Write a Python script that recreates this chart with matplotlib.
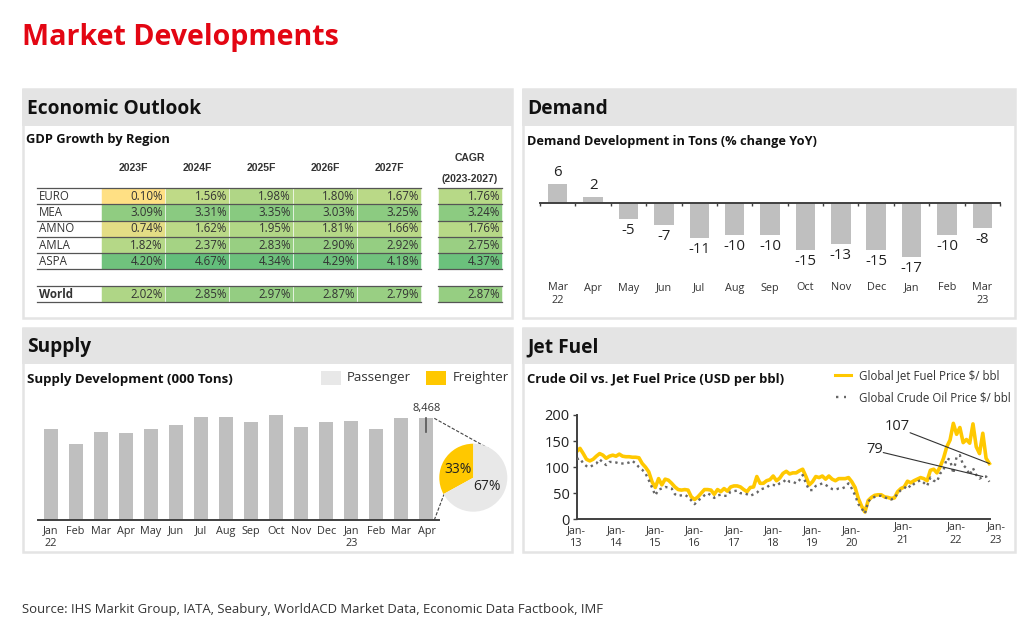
import matplotlib
matplotlib.use("Agg")
import matplotlib.pyplot as plt
from matplotlib.colors import LinearSegmentedColormap, Normalize
from matplotlib.patches import Rectangle
import numpy as np

plt.rcParams['font.family'] = ['Open Sans', 'DejaVu Sans']

W, H = 1024, 621

# GDP table
regions = ["EURO", "MEA", "AMNO", "AMLA", "ASPA"]
years = ["2023F", "2024F", "2025F", "2026F", "2027F"]
gdp = [
    [0.10, 1.56, 1.98, 1.80, 1.67],
    [3.09, 3.31, 3.35, 3.03, 3.25],
    [0.74, 1.62, 1.95, 1.81, 1.66],
    [1.82, 2.37, 2.83, 2.90, 2.92],
    [4.20, 4.67, 4.34, 4.29, 4.18],
]
cagr = [1.76, 3.24, 1.76, 2.75, 4.37]
world = [2.02, 2.85, 2.97, 2.87, 2.79]
world_cagr = 2.87

# demand
demand_months = ["Mar\n22", "Apr", "May", "Jun", "Jul", "Aug", "Sep", "Oct", "Nov", "Dec", "Jan", "Feb", "Mar\n23"]
demand = [6, 2, -5, -7, -11, -10, -10, -15, -13, -15, -17, -10, -8]

# supply
supply_months = ["Jan\n22", "Feb", "Mar", "Apr", "May", "Jun", "Jul", "Aug", "Sep", "Oct", "Nov", "Dec",
                 "Jan\n23", "Feb", "Mar", "Apr"]
supply = [7552, 6358, 7302, 7218, 7552, 7913, 8551, 8551, 8163, 8718, 7719, 8135, 8218, 7552, 8524, 8468]
supply_share = [33, 67]

# jet fuel, monthly from Jan-13
jet_fuel = [130, 136, 126, 115, 112, 115, 121, 126, 123, 117,
            121, 123, 121, 125, 121, 120, 120, 119, 119, 118,
            107, 100, 91, 72, 61, 78, 66, 77, 75, 69,
            62, 57, 56, 57, 56, 43, 38, 43, 50, 57,
            57, 56, 48, 57, 53, 59, 54, 62, 64, 64,
            62, 57, 53, 61, 62, 82, 69, 69, 74, 76,
            83, 74, 79, 88, 92, 87, 89, 89, 93, 96,
            82, 66, 72, 82, 80, 83, 77, 83, 77, 74,
            78, 78, 78, 80, 72, 61, 40, 25, 14, 36,
            42, 46, 47, 47, 43, 42, 40, 41, 53, 59,
            62, 73, 70, 74, 77, 80, 78, 74, 94, 96,
            89, 101, 117, 139, 152, 184, 163, 176, 147, 153,
            146, 183, 139, 126, 165, 117, 107]
crude_oil = [115, 117, 107, 102, 100, 104, 107, 115, 109, 104,
             110, 110, 109, 107, 107, 107, 109, 112, 107, 100,
             95, 88, 75, 61, 46, 57, 59, 62, 61, 59,
             48, 45, 46, 47, 43, 36, 29, 36, 40, 46,
             50, 46, 41, 46, 47, 45, 45, 53, 54, 55,
             50, 50, 48, 45, 48, 51, 57, 59, 61, 66,
             66, 64, 69, 71, 77, 72, 72, 69, 75, 85,
             69, 56, 56, 64, 66, 69, 66, 62, 58, 57,
             59, 59, 62, 69, 59, 46, 29, 21, 11, 34,
             40, 43, 45, 45, 42, 40, 38, 40, 50, 56,
             59, 66, 61, 68, 72, 75, 70, 64, 80, 74,
             72, 88, 94, 117, 114, 88, 120, 123, 104, 98,
             85, 98, 85, 78, 82, 82, 72]
fuel_labels = ["Jan-\n13", "Jan-\n14", "Jan-\n15", "Jan-\n16", "Jan-\n17", "Jan-\n18", "Jan-\n19", "Jan-\n20"]
late_labels = ["Jan-\n21", "Jan-\n22", "Jan-\n23"]

RED = "#E30613"
GREY = "#E4E4E4"
BAR = "#BFBFBF"
YELLOW = "#FFC800"
DARK = "#404040"
TXT = "#333333"


def px_axes(x0, y0, x1, y1):
    a = fig.add_axes([x0 / W, 1 - y1 / H, (x1 - x0) / W, (y1 - y0) / H])
    a.patch.set_alpha(0)
    return a


fig = plt.figure(figsize=(W / 100, H / 100), dpi=100, facecolor="white")
bg = fig.add_axes([0, 0, 1, 1])
bg.set_xlim(0, W)
bg.set_ylim(H, 0)
bg.axis("off")

bg.text(22, 37.5, "Market Developments", color=RED, fontsize=20.6, fontweight="bold", va="center")
bg.text(22, 609, "Source: IHS Markit Group, IATA, Seabury, WorldACD Market Data, Economic Data Factbook, IMF",
        color=TXT, fontsize=9.45, va="center")

# panels
panels = [
    (22, 89, 513, 318, 126, "Economic Outlook"),
    (522, 89, 1016, 318, 126, "Demand"),
    (22, 328, 513, 552, 364, "Supply"),
    (522, 328, 1016, 552, 364, "Jet Fuel"),
]
for x0, y0, x1, y1, yh, name in panels:
    bg.add_patch(Rectangle((x0 + 1, y0), x1 - x0 - 2, y1 - y0, fc="white", ec=GREY, lw=1.8))
    bg.add_patch(Rectangle((x0, y0), x1 - x0, yh - y0, fc=GREY, ec="none"))
    bg.text(x0 + 5, (y0 + yh) / 2 + 1, name, fontsize=13.8, fontweight="bold", color="#111111", va="center")

bg.text(26, 140, "GDP Growth by Region", fontsize=9.3, fontweight="bold", color="#111111", va="center")
bg.text(527, 141, "Demand Development in Tons (% change YoY)", fontsize=9.2, fontweight="bold", color="#111111", va="center")
bg.text(27, 379, "Supply Development (000 Tons)", fontsize=9.5, fontweight="bold", color="#111111", va="center")
bg.text(527, 379, "Crude Oil vs. Jet Fuel Price (USD per bbl)", fontsize=9.4, fontweight="bold", color="#111111", va="center")

# table
cmap = LinearSegmentedColormap.from_list("gdp", [(0, "#FFE084"), (0.35, "#B8D987"), (1, "#63BE7B")])
norm = Normalize(0.10, 4.67)
col_x = [101, 165, 229, 293, 357]
col_w = 64
cagr_x = 438
row_y = [188, 204.3, 220.5, 236.8, 253]
row_h = 16.3
world_y = 286


def cell(x, y, val):
    bg.add_patch(Rectangle((x, y), col_w, row_h, fc=cmap(norm(val)), ec="white", lw=0.4))
    bg.text(x + col_w - 2, y + row_h / 2 + 0.3, f"{val:.2f}%", fontsize=8.3, color=TXT, ha="right", va="center")


for x, yr in zip(col_x, years):
    bg.text(x + 32, 168, yr, family="Liberation Sans", fontsize=7.5, fontweight="bold", color=TXT, ha="center", va="center")
bg.text(470, 158, "CAGR", family="Liberation Sans", fontsize=7.5, fontweight="bold", color=TXT, ha="center", va="center")
bg.text(470, 179, "(2023-2027)", family="Liberation Sans", fontsize=7.5, fontweight="bold", color=TXT, ha="center", va="center")

for i, reg in enumerate(regions):
    y = row_y[i]
    bg.text(39, y + row_h / 2 + 0.3, reg, fontsize=8.3, color=TXT, va="center")
    for x, v in zip(col_x, gdp[i]):
        cell(x, y, v)
    cell(cagr_x, y, cagr[i])
bg.text(39, world_y + row_h / 2, "World", fontsize=8.3, fontweight="bold", color=TXT, va="center")
for x, v in zip(col_x, world):
    cell(x, world_y, v)
cell(cagr_x, world_y, world_cagr)

for y in row_y + [row_y[-1] + row_h, world_y, world_y + row_h]:
    bg.plot([37, 421], [y, y], color="#555555", lw=0.9, zorder=3)
    bg.plot([cagr_x, cagr_x + col_w], [y, y], color="#555555", lw=0.9, zorder=3)

# demand bars
ax = px_axes(540, 165, 1000, 310)
ax.set_xlim(-0.5, 12.5)
ax.set_ylim(-(310 - 203) / 3.15, (203 - 165) / 3.15)
xs = np.arange(len(demand))
ax.bar(xs, demand, width=0.55, color=BAR)
for s in ["top", "left", "right"]:
    ax.spines[s].set_visible(False)
ax.spines["bottom"].set_position(("data", 0))
ax.spines["bottom"].set_color(DARK)
ax.spines["bottom"].set_linewidth(1.4)
ax.set_yticks([])
ax.set_xticks(np.arange(-0.5, 13, 1))
ax.set_xticklabels([])
ax.tick_params(axis="x", length=2.5, width=1, color=DARK)
for x, v, m in zip(xs, demand, demand_months):
    off = 8.4 if v > 0 else -8.4
    ax.annotate(str(v), (x, v), xytext=(0, off), textcoords="offset points", ha="center", va="center",
                fontsize=10.8, color="#222222")
    ax.text(x, -(282.5 - 203) / 3.15, m, ha="center", va="top", fontsize=7.8, color=TXT, linespacing=1.15)

# supply bars
ax = px_axes(38, 410, 439, 520)
ax.set_xlim(-0.5, 15.5)
ax.set_ylim(0, 9160)
xs = np.arange(len(supply))
ax.bar(xs, supply, width=0.56, color=BAR)
for s in ["top", "left", "right"]:
    ax.spines[s].set_visible(False)
ax.spines["bottom"].set_color(DARK)
ax.spines["bottom"].set_linewidth(1.4)
ax.set_yticks([])
ax.set_xticks(xs)
ax.set_xticklabels(supply_months, fontsize=7.8, color=TXT, linespacing=1.2)
ax.tick_params(axis="x", length=0, pad=4)
ax.plot([xs[-1], xs[-1]], [supply[-1] - 1150, supply[-1] + 60], color="#555555", lw=1.2, clip_on=False)
ax.text(xs[-1], supply[-1] + 840, f"{supply[-1]:,}", ha="center", va="center", fontsize=8, color=TXT, clip_on=False)

bg.plot([434.3, 488.3], [418.3, 448.3], color="#444444", lw=0.8, ls=(0, (3, 1.5)))
bg.plot([434.3, 444], [520, 494.3], color="#444444", lw=0.8, ls=(0, (3, 1.5)))

# share pie
ax = px_axes(473.3 - 36, 477.7 - 36, 473.3 + 36, 477.7 + 36)
ax.pie(supply_share, colors=[YELLOW, "#E8E8E8"], startangle=90, radius=1, counterclock=True)
ax.set_xlim(-36 / 34, 36 / 34)
ax.set_ylim(-36 / 34, 36 / 34)
ax.text(-0.44, 0.25, f"{supply_share[0]}%", ha="center", va="center", fontsize=10, color="#222222")
ax.text(0.41, -0.25, f"{supply_share[1]}%", ha="center", va="center", fontsize=10, color="#222222")

# supply legend
bg.add_patch(Rectangle((321, 371), 20, 14, fc="#E8E8E8", ec="none"))
bg.text(347, 378, "Passenger", fontsize=9.5, color=TXT, va="center")
bg.add_patch(Rectangle((426, 371), 20, 14, fc=YELLOW, ec="none"))
bg.text(453, 378, "Freighter", fontsize=9.5, color=TXT, va="center")

# fuel lines
ax = px_axes(576.7, 415, 1000, 519.3)
months = np.arange(len(jet_fuel))
ax.plot(months, jet_fuel, color=YELLOW, lw=2.6, solid_joinstyle="round", zorder=2)
ax.plot(months, crude_oil, color="#666666", lw=1.7, ls=(0, (1, 1.6)), zorder=3)
ax.set_xlim(0, (1000 - 576.7) / 3.275)
ax.set_ylim(0, 200)
ax.set_yticks([0, 50, 100, 150, 200])
ax.tick_params(axis="y", labelsize=10.5, labelcolor="#222222", length=3, width=1, color=DARK, pad=2)
for s in ["top", "right"]:
    ax.spines[s].set_visible(False)
for s in ["left", "bottom"]:
    ax.spines[s].set_color(DARK)
    ax.spines[s].set_linewidth(1.4)
ax.spines["bottom"].set_bounds(0, (990 - 576.7) / 3.275)
ax.set_xticks(np.arange(0, 96, 12))
ax.set_xticklabels(fuel_labels, fontsize=7.8, color=TXT, linespacing=1.3)
ax.tick_params(axis="x", length=0, pad=4)
for lab, m in zip(late_labels, [99.7, 115.8, 128]):
    ax.text(m, -3.5, lab, ha="center", va="top", fontsize=7.8, color=TXT, linespacing=1.3, clip_on=False)

ax.annotate("", xy=(126, 107), xytext=(101.8, 166), arrowprops=dict(arrowstyle="-", color="#333333", lw=0.8, shrinkA=0, shrinkB=0))
ax.annotate("", xy=(124, 82), xytext=(93.6, 128), arrowprops=dict(arrowstyle="-", color="#333333", lw=0.8, shrinkA=0, shrinkB=0))
ax.text(97.8, 178, str(jet_fuel[-1]), ha="center", va="center", fontsize=10.5, color="#222222")
ax.text(90.9, 134, "79", ha="center", va="center", fontsize=10.5, color="#222222")

# fuel legend
bg.plot([835, 851], [375, 375], color=YELLOW, lw=2.2)
bg.plot([836, 846], [397, 397], color="#666666", lw=1.7, ls=(0, (1, 2.4)))
bg.text(859, 375.5, "Global Jet Fuel Price $/ bbl", fontsize=8.3, color=TXT, va="center")
bg.text(859, 397.5, "Global Crude Oil Price $/ bbl", fontsize=8.3, color=TXT, va="center")

fig.savefig("out.png", dpi=100)
